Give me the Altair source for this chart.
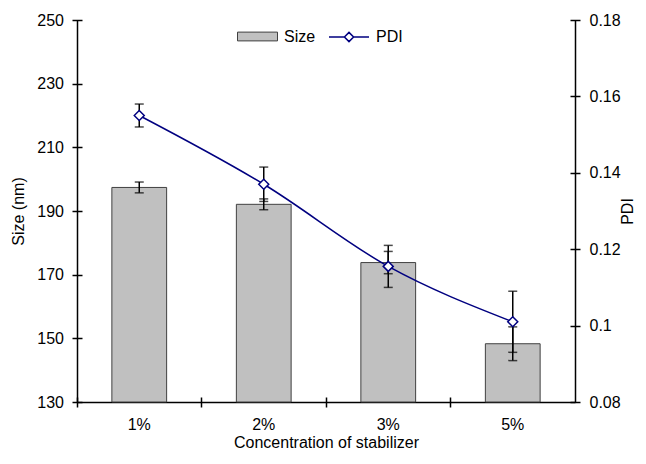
import altair as alt
import pandas as pd

# ---- data ----
categories = ["1%", "2%", "3%", "5%"]
size_nm = [197.4, 192.1, 173.8, 148.3]
size_err = [1.7, 1.7, 3.5, 5.3]
pdi = [0.155, 0.137, 0.1155, 0.101]
pdi_err = [0.003, 0.0045, 0.0055, 0.008]
size_ticks = [130, 150, 170, 190, 210, 230, 250]
pdi_ticks = [0.08, 0.10, 0.12, 0.14, 0.16, 0.18]

df = pd.DataFrame({
    "conc": categories,
    "size": size_nm,
    "size_lo": [v - e for v, e in zip(size_nm, size_err)],
    "size_hi": [v + e for v, e in zip(size_nm, size_err)],
    "pdi": pdi,
    "pdi_lo": [v - e for v, e in zip(pdi, pdi_err)],
    "pdi_hi": [v + e for v, e in zip(pdi, pdi_err)],
    "s1": ["Size"] * len(categories),
    "s2": ["PDI"] * len(categories),
})

FONT = "Liberation Sans"
NAVY = "#000080"

xscale = alt.Scale(domain=categories, paddingInner=0, paddingOuter=0)
yS = alt.Scale(domain=[size_ticks[0], size_ticks[-1]], nice=False, zero=False)
yP = alt.Scale(domain=[pdi_ticks[0], pdi_ticks[-1]], nice=False, zero=False)

base = alt.Chart(df)

x_main = alt.X(
    "conc:N", scale=xscale, sort=categories,
    axis=alt.Axis(orient="bottom", domain=True, ticks=False, tickSize=0,
                  labelAngle=0, labelPadding=14,
                  title="Concentration of stabilizer", titleX=249, titleY=32.5,
                  titleBaseline="top", titleAlign="center"),
)
x_ticks = alt.X(
    "conc:N", scale=xscale, sort=categories,
    axis=alt.Axis(orient="bottom", offset=-5, bandPosition=0, domain=False,
                  labels=False, ticks=True, tickSize=10, title=None),
)
x_none = alt.X("conc:N", scale=xscale, sort=categories, axis=None)

bars = base.mark_bar(
    width=alt.RelativeBandSize(0.44), stroke="#404040", strokeWidth=1
).encode(
    x=x_main,
    y=alt.Y("size:Q", scale=yS,
            axis=alt.Axis(orient="left", values=size_ticks, ticks=False, tickSize=0,
                          labelPadding=13.5, title="Size (nm)", titleX=-59, titleY=191,
                          titleAngle=270, titleBaseline="middle", titleAlign="center")),
    y2=alt.datum(size_ticks[0]),
    fill=alt.Fill("s1:N", scale=alt.Scale(domain=["Size"], range=["#C0C0C0"]),
                  legend=alt.Legend(title=None, orient="none", legendX=160, legendY=-4,
                                    symbolType="M-1,-0.22H1V0.22H-1Z", symbolSize=1600,
                                    symbolStrokeColor="#404040", symbolStrokeWidth=1,
                                    labelOffset=6)),
)

size_rule = base.mark_rule(color="black", strokeWidth=1.5).encode(
    x=x_ticks,
    y=alt.Y("size_lo:Q", scale=yS,
            axis=alt.Axis(orient="left", offset=-5, values=size_ticks, tickSize=10,
                          domain=False, labels=False, title=None)),
    y2="size_hi:Q",
)

size_caps = base.transform_fold(["size_lo", "size_hi"], as_=["k", "v"]).mark_tick(
    color="black", size=9, thickness=1.5
).encode(
    x=x_none,
    y=alt.Y("v:Q", scale=yS, axis=None),
)

pdi_rule = base.mark_rule(color="black", strokeWidth=1.5).encode(
    x=x_none,
    y=alt.Y("pdi_lo:Q", scale=yP, axis=None),
    y2="pdi_hi:Q",
)

pdi_caps = base.transform_fold(["pdi_lo", "pdi_hi"], as_=["k", "v"]).mark_tick(
    color="black", size=9, thickness=1.5
).encode(
    x=x_none,
    y=alt.Y("v:Q", scale=yP, axis=None),
)

line = base.mark_line(strokeWidth=1.5, interpolate="monotone").encode(
    x=x_none,
    y=alt.Y("pdi:Q", scale=yP,
            axis=alt.Axis(orient="right", values=pdi_ticks, format="~g", ticks=False,
                          tickSize=0, labelPadding=14, title="PDI", titleX=52, titleY=191,
                          titleAngle=270, titleBaseline="middle", titleAlign="center")),
    stroke=alt.Stroke("s2:N", scale=alt.Scale(domain=["PDI"], range=[NAVY]),
                      legend=alt.Legend(title=None, orient="none", legendX=251, legendY=-4,
                                        symbolType="M-1,0H-0.23M0.23,0H1M-0.23,0L0,-0.23L0.23,0L0,0.23Z",
                                        symbolSize=1600, symbolStrokeWidth=1.5,
                                        symbolFillColor="white", labelOffset=6)),
)

points = base.mark_point(
    shape="diamond", size=100, filled=True, fill="white", stroke=NAVY,
    strokeWidth=1.5, opacity=1
).encode(
    x=x_none,
    y=alt.Y("pdi:Q", scale=yP,
            axis=alt.Axis(orient="right", offset=-5, values=pdi_ticks, tickSize=10,
                          domain=False, labels=False, title=None)),
)

chart = alt.layer(
    bars, size_rule, size_caps, pdi_rule, pdi_caps, line, points
).resolve_scale(
    y="independent"
).resolve_axis(
    x="independent", y="independent"
).properties(
    width=498, height=382,
    padding={"left": 69, "top": 12, "right": 63, "bottom": 49},
    autosize=alt.AutoSizeParams(type="none"),
    background="white",
).configure_view(
    stroke=None
).configure_axis(
    labelFont=FONT, labelFontSize=16, labelColor="black",
    titleFont=FONT, titleFontSize=16, titleFontWeight="normal", titleColor="black",
    grid=False, domainColor="black", domainWidth=1.5, tickColor="black", tickWidth=1.5,
).configure_legend(
    labelFont=FONT, labelFontSize=16, labelColor="black", padding=0,
)

chart.save("out.html", embed_options={"renderer": "svg", "actions": False})
